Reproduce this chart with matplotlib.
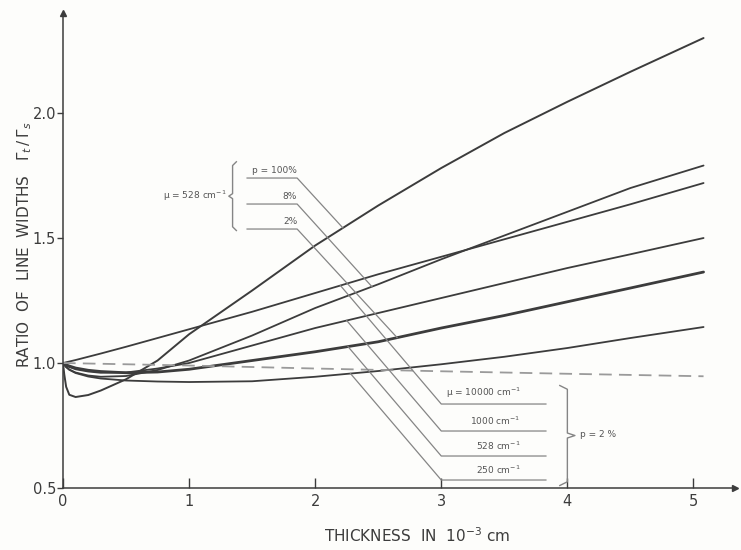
import numpy as np
import matplotlib.pyplot as plt

# thickness in 10^-3 cm
thickness = [0, 0.01, 0.025, 0.05, 0.1, 0.2, 0.3, 0.5, 0.75, 1.0, 1.5, 2.0, 2.5, 3.0, 3.5, 4.0, 4.5, 5.08]

# ratio of line widths for the six calculated cases
curve_a = [1.0, 0.955, 0.905, 0.873, 0.864, 0.872, 0.89, 0.935, 1.01, 1.115, 1.29, 1.47, 1.63, 1.78, 1.92, 2.045, 2.165, 2.30]
curve_b = [1.0, 1.001, 1.003, 1.006, 1.012, 1.025, 1.038, 1.065, 1.10, 1.135, 1.205, 1.28, 1.355, 1.425, 1.495, 1.565, 1.635, 1.72]
curve_c = [1.0, 0.993, 0.984, 0.974, 0.962, 0.95, 0.945, 0.948, 0.972, 1.01, 1.11, 1.22, 1.315, 1.415, 1.51, 1.605, 1.70, 1.79]
curve_d = [1.0, 0.996, 0.99, 0.984, 0.975, 0.966, 0.961, 0.962, 0.978, 1.0, 1.07, 1.14, 1.20, 1.26, 1.32, 1.38, 1.435, 1.50]
curve_e = [1.0, 0.997, 0.993, 0.988, 0.98, 0.971, 0.966, 0.961, 0.964, 0.975, 1.01, 1.045, 1.085, 1.14, 1.19, 1.245, 1.30, 1.364]
curve_f = [1.0, 0.993, 0.984, 0.973, 0.96, 0.946, 0.938, 0.93, 0.926, 0.924, 0.927, 0.945, 0.968, 0.995, 1.025, 1.06, 1.10, 1.144]

# dashed reference line
dashed_x = [0, 1, 2, 3, 4, 5.08]
dashed_y = [1.0, 0.99, 0.978, 0.967, 0.957, 0.947]

# label groups
upper_labels = ['p = 100%', '8%', '2%']
upper_label_y = [1.74, 1.636, 1.536]
upper_end_x = [2.22, 2.45, 2.65]
lower_labels = ['μ = 10000 cm$^{-1}$', '1000 cm$^{-1}$', '528 cm$^{-1}$', '250 cm$^{-1}$']
lower_label_y = [0.836, 0.728, 0.628, 0.532]
lower_end_x = [2.2, 2.25, 2.26, 2.28]

ink = '#3c3c3c'
faint = '#858585'
note = '#555555'

fig = plt.figure(figsize=(7.41, 5.5), dpi=100, facecolor='#fdfdfb')
ax = fig.add_axes([0.085, 0.1127, 0.907, 0.8636])
ax.set_facecolor('#fdfdfb')

x = np.array(thickness)
curves = [curve_a, curve_b, curve_c, curve_d, curve_e, curve_f]
widths = [1.4, 1.3, 1.3, 1.3, 2.0, 1.3]
for y, lw in zip(curves, widths):
    ax.plot(x, y, color=ink, lw=lw, solid_capstyle='round')
ax.plot(dashed_x, dashed_y, color='#9a9a9a', lw=1.3, dashes=(7, 4))

# upper group: mu = 528 cm^-1, leaders run down to the right
for lab, ly, ex, cv in zip(upper_labels, upper_label_y, upper_end_x, [curve_a, curve_c, curve_e]):
    ey = np.interp(ex, x, cv)
    ax.plot([1.46, 1.857, ex], [ly, ly, ey], color=faint, lw=0.9)
    ax.text(1.857, ly + 0.012, lab, ha='right', va='bottom', fontsize=6.5, color=note)
ax.text(1.30, 1.668, 'μ = 528 cm$^{-1}$', ha='right', va='center', fontsize=6.5, color=note)
bx, bt, bb = 1.345, 1.80, 1.535
bm = (bt + bb) / 2
ax.plot([bx + 0.03, bx, bx, bx - 0.03, bx, bx, bx + 0.03],
        [bt + 0.005, bt - 0.01, bm + 0.01, bm, bm - 0.01, bb + 0.01, bb - 0.005],
        color=faint, lw=1.0)

# lower group: p = 2 %, leaders run up to the left
for lab, ly, ex, cv in zip(lower_labels, lower_label_y, lower_end_x, [curve_b, curve_d, curve_e, curve_f]):
    ey = np.interp(ex, x, cv)
    ax.plot([3.83, 3.0, ex], [ly, ly, ey], color=faint, lw=0.9)
    ax.text(3.63, ly + 0.018, lab, ha='right', va='bottom', fontsize=6.5, color=note)
bx, bt, bb = 4.0, 0.905, 0.515
bm = (bt + bb) / 2
ax.plot([bx - 0.06, bx, bx, bx + 0.06, bx, bx, bx - 0.06],
        [bt + 0.005, bt - 0.01, bm + 0.01, bm, bm - 0.01, bb + 0.01, bb - 0.005],
        color=faint, lw=1.0)
ax.text(4.1, 0.716, 'p = 2 %', ha='left', va='center', fontsize=6.5, color=note)

ax.set_xlim(0, 5.33)
ax.set_ylim(0.5, 2.4)
for side in ['top', 'right']:
    ax.spines[side].set_visible(False)
for side in ['left', 'bottom']:
    ax.spines[side].set_color(ink)
    ax.spines[side].set_linewidth(1.1)
ax.plot(1, 0, '>', color=ink, ms=5, transform=ax.transAxes, clip_on=False)
ax.plot(0, 1, '^', color=ink, ms=5, transform=ax.transAxes, clip_on=False)

ax.set_xticks([0, 1, 2, 3, 4, 5])
ax.set_xticklabels(['0', '1', '2', '3', '4', '5'])
ax.set_yticks([0.5, 1.0, 1.5, 2.0])
ax.set_yticklabels(['0.5', '1.0', '1.5', '2.0'])
ax.tick_params(axis='x', direction='in', length=7, width=1, colors=ink, labelsize=10.5, pad=4)
ax.tick_params(axis='y', direction='out', length=4, width=1, colors=ink, labelsize=10.5, pad=1)

fig.text(0.563, 0.027, 'THICKNESS  IN  10$^{-3}$ cm', ha='center', va='center',
         fontsize=11, color=ink)
fig.text(0.033, 0.555, 'RATIO  OF  LINE  WIDTHS   $\\Gamma_t\\,/\\,\\Gamma_s$', rotation=90,
         ha='center', va='center', fontsize=11, color=ink)

fig.savefig('out.png', dpi=100, facecolor=fig.get_facecolor())
